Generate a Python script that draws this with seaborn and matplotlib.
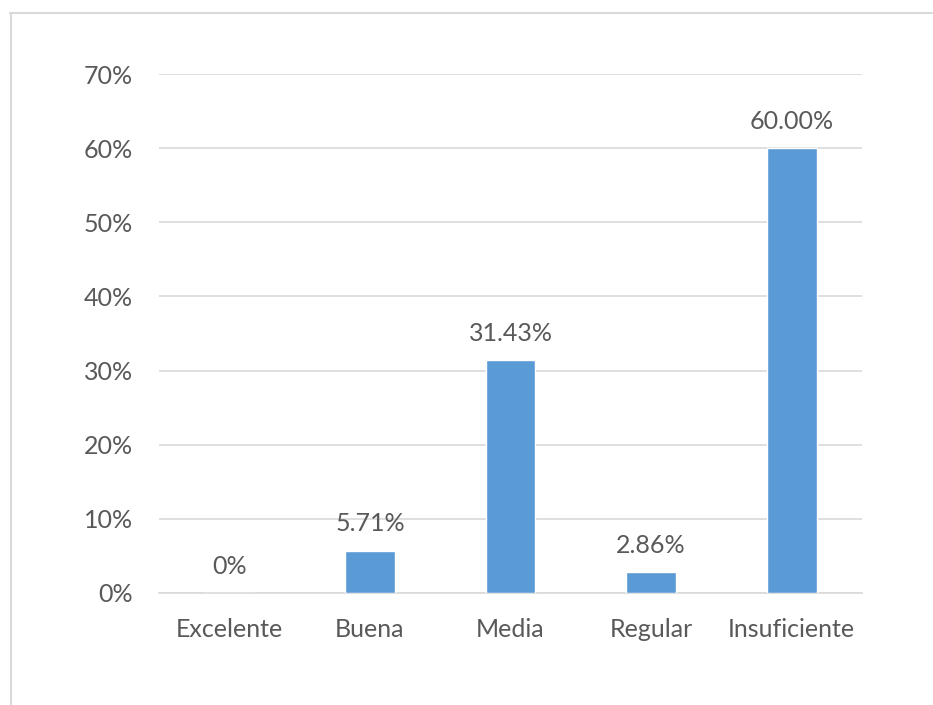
import matplotlib
matplotlib.use("Agg")
import matplotlib.pyplot as plt
import seaborn as sns
import pandas as pd
from matplotlib.lines import Line2D
from matplotlib.ticker import FuncFormatter

categories = ["Excelente", "Buena", "Media", "Regular", "Insuficiente"]
values = [0.0, 0.0571, 0.3143, 0.0286, 0.60]
value_labels = ["0%", "5.71%", "31.43%", "2.86%", "60.00%"]
y_ticks = [0.0, 0.1, 0.2, 0.3, 0.4, 0.5, 0.6, 0.7]

sns.set_style("white")
plt.rcParams['font.family'] = ['Lato', 'DejaVu Sans']

text_color = "#595959"
grid_color = "#d9d9d9"
bar_color = "#5b9bd5"

df = pd.DataFrame({"categoria": categories, "valor": values})

fig = plt.figure(figsize=(9.33, 7.05), dpi=100)
ax = fig.add_axes([159 / 933, 1 - 593 / 705, (862 - 159) / 933, (593 - 74) / 705])

sns.barplot(data=df, x="categoria", y="valor", color=bar_color, width=0.355,
            saturation=1, ax=ax, zorder=3)

ax.set_ylim(0, 0.7)
ax.set_yticks(y_ticks)
ax.yaxis.set_major_formatter(FuncFormatter(lambda v, p: f"{v * 100:.0f}%"))
ax.grid(True, axis="y", color=grid_color, linewidth=1.2, zorder=0)
ax.set_axisbelow(True)
for side in ["top", "right", "left"]:
    ax.spines[side].set_visible(False)
ax.spines["bottom"].set_color(grid_color)
ax.spines["bottom"].set_linewidth(1.2)
ax.tick_params(axis="both", length=0, labelsize=18, colors=text_color)
ax.tick_params(axis="y", pad=19)
ax.tick_params(axis="x", pad=18)
ax.set_xlabel("")
ax.set_ylabel("")

ax.bar_label(ax.containers[0], labels=value_labels, padding=11,
             fontsize=18, color=text_color)

# chart border (only top and left edges visible in the crop)
fig.add_artist(Line2D([10.5 / 933, 10.5 / 933], [0, 1 - 13 / 705],
                      color=grid_color, linewidth=1.5, transform=fig.transFigure))
fig.add_artist(Line2D([10 / 933, 1], [1 - 13 / 705, 1 - 13 / 705],
                      color=grid_color, linewidth=1.5, transform=fig.transFigure))

fig.savefig("out.png", dpi=100)
